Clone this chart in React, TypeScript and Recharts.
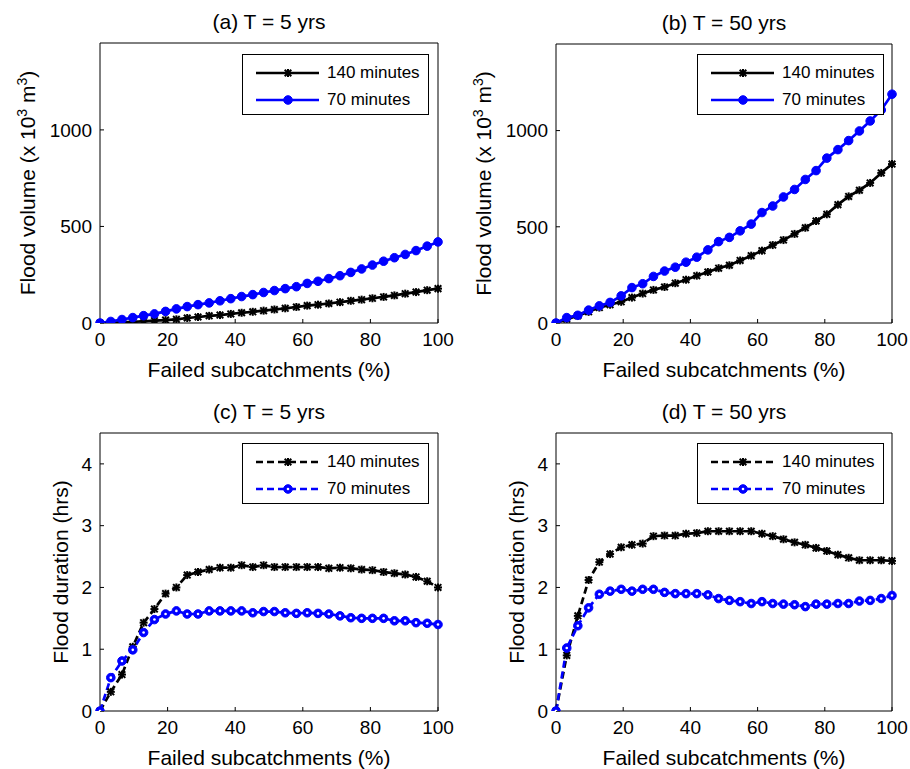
import React from 'react';
import { LineChart, Line, XAxis, YAxis, Legend } from 'recharts';

// failed subcatchments (%), 31 subcatchments -> 32 points
const pct = [0, 3.2, 6.5, 9.7, 12.9, 16.1, 19.4, 22.6, 25.8, 29.0, 32.3, 35.5, 38.7, 41.9, 45.2, 48.4,
  51.6, 54.8, 58.1, 61.3, 64.5, 67.7, 71.0, 74.2, 77.4, 80.6, 83.9, 87.1, 90.3, 93.5, 96.8, 100];

// flood volume (x 10^3 m^3)
const volT5_140 = [0, 2, 4, 6, 9, 12, 15, 19, 26, 31, 37, 41, 47, 53, 58, 64, 70, 76, 83, 90, 95, 101, 108, 115, 121, 128, 135, 143, 152, 160, 170, 178];
const volT5_70 = [0, 8, 18, 28, 38, 47, 60, 73, 85, 95, 104, 115, 126, 137, 147, 158, 168, 178, 188, 205, 216, 230, 245, 262, 280, 300, 320, 338, 355, 375, 398, 420];
const volT50_140 = [0, 20, 38, 58, 80, 95, 110, 132, 153, 172, 187, 207, 225, 246, 265, 285, 300, 325, 350, 376, 405, 431, 463, 495, 530, 565, 615, 658, 690, 728, 780, 826];
const volT50_70 = [0, 28, 40, 67, 89, 107, 141, 184, 204, 242, 270, 290, 316, 342, 380, 423, 445, 479, 514, 574, 608, 655, 694, 746, 792, 857, 901, 948, 998, 1050, 1107, 1189];

// flood duration (hrs)
const durT5_140 = [0, 0.31, 0.59, 1.04, 1.43, 1.65, 1.9, 2.0, 2.2, 2.25, 2.29, 2.32, 2.32, 2.36, 2.33, 2.36, 2.33, 2.33, 2.33, 2.33, 2.33, 2.31, 2.32, 2.31, 2.29, 2.28, 2.25, 2.23, 2.21, 2.17, 2.1, 2.0];
const durT5_70 = [0, 0.54, 0.81, 0.99, 1.27, 1.48, 1.57, 1.62, 1.57, 1.57, 1.62, 1.62, 1.62, 1.62, 1.59, 1.61, 1.61, 1.59, 1.58, 1.59, 1.58, 1.57, 1.54, 1.51, 1.5, 1.5, 1.5, 1.46, 1.46, 1.43, 1.42, 1.4];
const durT50_140 = [0, 0.9, 1.54, 2.12, 2.41, 2.54, 2.65, 2.69, 2.71, 2.83, 2.84, 2.84, 2.87, 2.88, 2.91, 2.91, 2.91, 2.91, 2.91, 2.87, 2.83, 2.78, 2.73, 2.69, 2.64, 2.59, 2.53, 2.48, 2.44, 2.44, 2.44, 2.43];
const durT50_70 = [0, 1.02, 1.38, 1.67, 1.89, 1.94, 1.97, 1.94, 1.97, 1.97, 1.92, 1.9, 1.9, 1.9, 1.88, 1.82, 1.79, 1.77, 1.74, 1.77, 1.74, 1.73, 1.72, 1.69, 1.73, 1.73, 1.74, 1.74, 1.78, 1.79, 1.82, 1.87];

const xTicks = [0, 20, 40, 60, 80, 100];
const volTicks = [0, 500, 1000];
const durTicks = [0, 1, 2, 3, 4];
const seriesNames = ['140 minutes', '70 minutes'];

const FONT = '"Liberation Sans", Arial, Helvetica, sans-serif';
const BLUE = '#0000ff';
const W = 455;

const Star = ({ cx, cy }: any) => (
  <g stroke="#000" strokeWidth={2}>
    <line x1={cx - 3.3} y1={cy - 3.3} x2={cx + 3.3} y2={cy + 3.3} />
    <line x1={cx - 3.3} y1={cy + 3.3} x2={cx + 3.3} y2={cy - 3.3} />
    <line x1={cx - 4} y1={cy} x2={cx + 4} y2={cy} />
    <line x1={cx} y1={cy - 4} x2={cx} y2={cy + 4} />
  </g>
);

const Circ = ({ cx, cy, hollow }: any) => (
  <g>
    <circle cx={cx} cy={cy} r={4.3} fill={BLUE} stroke={BLUE} strokeWidth={1} />
    {hollow && <circle cx={cx} cy={cy} r={1.3} fill="#fff" />}
  </g>
);

function LegendBox({ dashed, hollow }: any) {
  const dash = dashed ? '7 4' : undefined;
  return (
    <div style={{ position: 'relative', width: 185, height: 59, border: '1px solid #000', background: '#fff', fontFamily: FONT, fontSize: 17, color: '#000' }}>
      <svg width={82} height={59} style={{ position: 'absolute', left: 0, top: 0 }}>
        <line x1={13} x2={76} y1={18} y2={18} stroke="#000" strokeWidth={2.7} strokeDasharray={dash} />
        <Star cx={45} cy={18} />
        <line x1={13} x2={76} y1={45} y2={45} stroke={BLUE} strokeWidth={2.7} strokeDasharray={dash} />
        <Circ cx={45} cy={45} hollow={hollow} />
      </svg>
      <div style={{ position: 'absolute', left: 84, top: 8, lineHeight: '20px', whiteSpace: 'nowrap' }}>{seriesNames[0]}</div>
      <div style={{ position: 'absolute', left: 84, top: 35, lineHeight: '20px', whiteSpace: 'nowrap' }}>{seriesNames[1]}</div>
    </div>
  );
}

function Panel({ left, top, height, plotL, plotR, plotT, plotB, title, yLabel, yLabelX, yMax, yTicks, d140, d70, dashed, legendTop }: any) {
  const data = pct.map((x, i) => ({ x, a: d140[i], b: d70[i] }));
  const dash = dashed ? '7 4' : undefined;
  const tickStyle = { fill: '#000', fontSize: 19, fontFamily: FONT };

  const titleLabel = (p: any) => {
    const vb = p.viewBox;
    return (
      <text x={vb.x + vb.width / 2} y={plotT - 14} textAnchor="middle" fontFamily={FONT} fontSize={21} fill="#000">{title}</text>
    );
  };
  const xLabel = (p: any) => {
    const vb = p.viewBox;
    return (
      <text x={vb.x + vb.width / 2} y={plotB + 54} textAnchor="middle" fontFamily={FONT} fontSize={21} fill="#000">Failed subcatchments (%)</text>
    );
  };
  const yLab = (p: any) => {
    const vb = p.viewBox;
    const cy = vb.y + vb.height / 2;
    const cx = yLabelX + 7.5;
    return (
      <text x={cx} y={cy} transform={`rotate(-90, ${cx}, ${cy})`} textAnchor="middle" fontFamily={FONT} fontSize={21} fill="#000">
        {yLabel === 'vol' ? (
          <>
            Flood volume (x 10<tspan dy={-8} fontSize={14}>3</tspan><tspan dy={8}> m</tspan><tspan dy={-8} fontSize={14}>3</tspan><tspan dy={8}>)</tspan>
          </>
        ) : 'Flood duration (hrs)'}
      </text>
    );
  };

  return (
    <div style={{ position: 'absolute', left, top }}>
      <LineChart width={W} height={height} data={data} margin={{ top: 0, right: 0, bottom: 0, left: 0 }}>
        <XAxis xAxisId="b" dataKey="x" type="number" domain={[0, 100]} ticks={xTicks} interval={0}
          height={height - plotB} stroke="#000" tickSize={-4} tickMargin={14} tick={tickStyle} label={xLabel} />
        <XAxis xAxisId="t" orientation="top" dataKey="x" type="number" domain={[0, 100]} ticks={xTicks} interval={0}
          height={plotT} stroke="#000" tickSize={-4} tick={false} label={titleLabel} />
        <YAxis yAxisId="l" type="number" domain={[0, yMax]} ticks={yTicks} interval={0} allowDataOverflow
          width={plotL} stroke="#000" tickSize={-4} tickMargin={12} tick={tickStyle} label={yLab} />
        <YAxis yAxisId="r" orientation="right" type="number" domain={[0, yMax]} ticks={yTicks} interval={0} allowDataOverflow
          width={W - plotR} stroke="#000" tickSize={-4} tick={false} />
        <Legend layout="vertical" align="center" verticalAlign="middle"
          wrapperStyle={{ left: 242, top: legendTop, width: 187, height: 61 }}
          content={() => <LegendBox dashed={dashed} hollow={dashed} />} />
        <Line xAxisId="b" yAxisId="l" dataKey="a" stroke="#000" strokeWidth={2.7} strokeDasharray={dash}
          isAnimationActive={false} dot={(p: any) => <Star key={'a' + p.index} cx={p.cx} cy={p.cy} />} activeDot={false} />
        <Line xAxisId="b" yAxisId="l" dataKey="b" stroke={BLUE} strokeWidth={2.7} strokeDasharray={dash}
          isAnimationActive={false} dot={(p: any) => <Circ key={'b' + p.index} cx={p.cx} cy={p.cy} hollow={dashed} />} activeDot={false} />
      </LineChart>
    </div>
  );
}

export default function App() {
  return (
    <div style={{ position: 'absolute', left: 0, top: 0, width: 910, height: 769, background: '#fff' }}>
      <Panel left={0} top={0} height={384} plotL={100} plotR={438} plotT={43} plotB={323}
        title="(a) T = 5 yrs" yLabel="vol" yLabelX={27} yMax={1450} yTicks={volTicks}
        d140={volT5_140} d70={volT5_70} dashed={false} legendTop={54} />
      <Panel left={455} top={0} height={384} plotL={101} plotR={437} plotT={44} plotB={323}
        title="(b) T = 50 yrs" yLabel="vol" yLabelX={28} yMax={1450} yTicks={volTicks}
        d140={volT50_140} d70={volT50_70} dashed={false} legendTop={54} />
      <Panel left={0} top={384} height={385} plotL={100} plotR={438} plotT={49} plotB={327}
        title="(c) T = 5 yrs" yLabel="dur" yLabelX={60} yMax={4.5} yTicks={durTicks}
        d140={durT5_140} d70={durT5_70} dashed={true} legendTop={59} />
      <Panel left={455} top={384} height={385} plotL={101} plotR={437} plotT={49} plotB={327}
        title="(d) T = 50 yrs" yLabel="dur" yLabelX={61} yMax={4.5} yTicks={durTicks}
        d140={durT50_140} d70={durT50_70} dashed={true} legendTop={59} />
    </div>
  );
}
